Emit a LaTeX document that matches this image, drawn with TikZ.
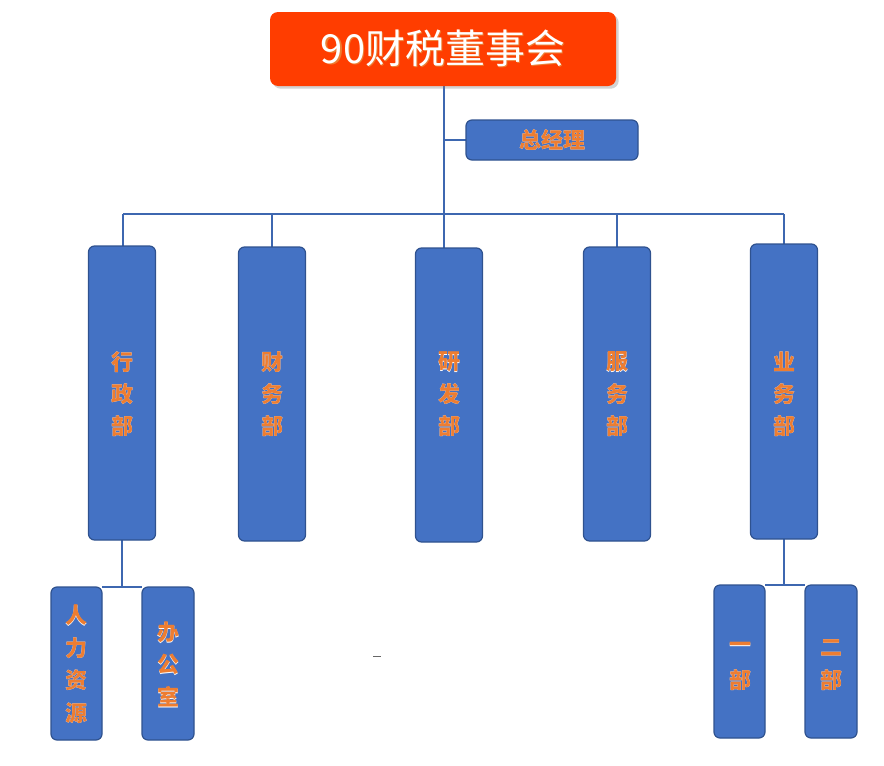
\documentclass[tikz,border=0pt]{standalone}
\usepackage{fontspec}
\setmainfont{Noto Sans CJK SC}
\usetikzlibrary{shadows}
\definecolor{bx}{HTML}{4472C4}
\definecolor{bd}{HTML}{2F528F}
\definecolor{tx}{HTML}{ED7D31}
\definecolor{rd}{HTML}{FF3D00}
\newcommand{\sh}[1]{\makebox[0pt][l]{\raisebox{-1.2pt}{\hspace{1.2pt}\textcolor{tx}{#1}}}\textcolor{white}{#1}}
\newcommand{\oc}[1]{\makebox[0pt][l]{\raisebox{-0.5pt}{\hspace{0.5pt}\textcolor{white}{#1}}}\textcolor{tx}{#1}}
\tikzset{
 box/.style={draw=bd,line width=1.2pt,fill=bx,rounded corners=6pt},
 ln/.style={draw=bx!90!black,line width=1.3pt},
 ch/.style={font=\fontsize{22}{22}\selectfont\bfseries,inner sep=0pt}
}
\begin{document}
\begin{tikzpicture}[x=1pt,y=-1pt]
\useasboundingbox (0,0) rectangle (884,766);
% connectors
\coordinate (j1) at (444,214);
\draw[ln] (444,86) -- (j1);
\draw[ln] (444,140) -- (466,140);
\draw[ln] (123,214) -- (784,214);
\foreach \x/\y in {123/246,272/247,444/248,617/247,784/244} \draw[ln] (\x,214) -- (\x,\y);
\draw[ln] (122,540) -- (122,587);
\draw[ln] (102,587) -- (142,587);
\draw[ln] (784,539) -- (784,585);
\draw[ln] (765,585) -- (805,585);
\draw[ln,line width=0.6pt,black!60] (373,656) -- (381,656);
% top
\node[fill=rd,rounded corners=8pt,minimum width=346pt,minimum height=74pt,drop shadow={opacity=0.35}] (top) at (443,49) {};
\node[font=\fontsize{40}{40}\selectfont,inner sep=0pt] at (top) {\sh{90财税董事会}};
\node[box,minimum width=172pt,minimum height=40pt] (gm) at (552,140) {};
\node[ch] at (gm) {\oc{总经理}};
% departments
\foreach \n/\x/\ya/\yb/\t in {a/122/246/540/{行,政,部},b/272/247/541/{财,务,部},c/449/248/542/{研,发,部},d/617/247/541/{服,务,部},e/784/244/539/{业,务,部}}{
 \draw[box] (\x-33.5,\ya) rectangle (\x+33.5,\yb);
 \foreach \c [count=\i] in \t \node[ch] at (\x,330+\i*32) {\oc{\c}};
}
% sub boxes
\draw[box] (51,587) rectangle (102,740);
\foreach \c [count=\i] in {人,力,资,源} \node[ch] at (76,583+\i*32.5) {\oc{\c}};
\draw[box] (142,587) rectangle (194,740);
\foreach \c [count=\i] in {办,公,室} \node[ch] at (168,601+\i*32) {\oc{\c}};
\draw[box] (714,585) rectangle (765,738);
\foreach \c [count=\i] in {一,部} \node[ch] at (740,616+\i*32) {\oc{\c}};
\draw[box] (805,585) rectangle (857,738);
\foreach \c [count=\i] in {二,部} \node[ch] at (831,616+\i*32) {\oc{\c}};
\end{tikzpicture}
\end{document}
